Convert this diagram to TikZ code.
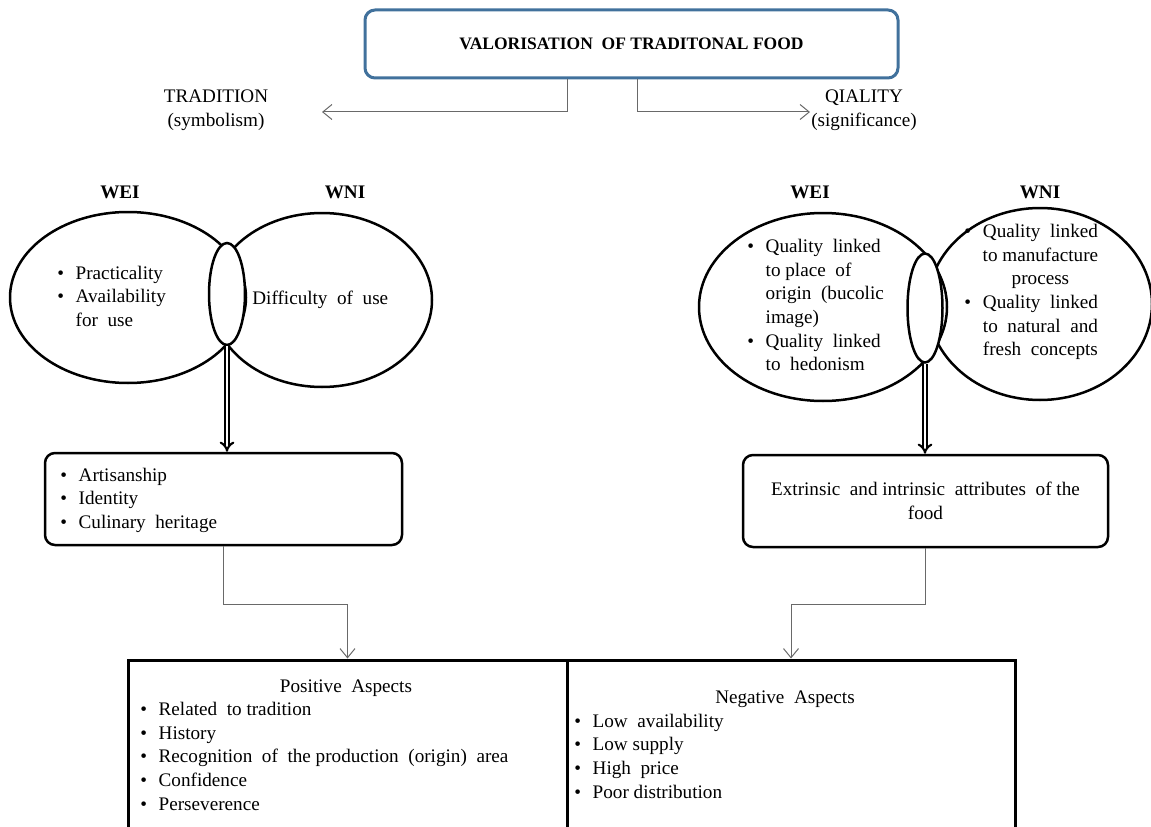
\documentclass[tikz,border=0pt]{standalone}
\usepackage{fontspec}
\setmainfont{Liberation Serif}
\usetikzlibrary{shapes,arrows.meta,positioning,calc}
\definecolor{titleblue}{RGB}{65,113,156}
\definecolor{linkgray}{RGB}{105,105,105}
\newcommand{\bodyfont}{\fontsize{11.5}{14.2}\selectfont}

\begin{document}
\begin{tikzpicture}[x=0.6pt, y=-0.6pt,
	every node/.style={font=\bodyfont, inner sep=0pt},
	titlebox/.style={draw=titleblue, line width=1.8pt, rounded corners=6pt, minimum width=319.8pt, minimum height=40.8pt},
	ring/.style={draw, ellipse, line width=1.5pt},
	overlap/.style={ring, fill=white},
	roundbox/.style={draw, line width=1.5pt, rounded corners=6pt, minimum height=55.2pt},
	aspectbox/.style={draw, line width=1.8pt, minimum height=144pt},
	link/.style={draw=linkgray, line width=0.6pt, -{Straight Barb[length=5.5pt, width=9pt]}},
	dblarrow/.style={double, double distance=1.6pt, line width=1.25pt, -{Implies}},
	heading/.style={font=\bodyfont\bfseries}]
				\useasboundingbox (0,0) rectangle (1151,827);
				\clip (0,0) rectangle (1151,827);
				
				% Title and the two branches
				\node[titlebox] (title) at (631.5,44) {\fontsize{10.5}{12}\selectfont\bfseries VALORISATION\ \ OF TRADITONAL FOOD};
				\coordinate (tradArrow) at (322,112);
				\coordinate (qualArrow) at (810,112);
				\draw[link] ($(title.south)+(-64.5,0)$) |- (tradArrow);
				\draw[link] ($(title.south)+(5.5,0)$) |- (qualArrow);
				\node[align=center] (trad) at (216,110) {TRADITION\\(symbolism)};
				\node[align=center] (qual) at (864,110) {QIALITY\\(significance)};
				
				% Tradition side
				\node[heading] (weiL) at (120,192) {WEI};
				\node[heading] (wniL) at (345,192) {WNI};
				\node[ring, minimum width=141.6pt, minimum height=102.6pt] (weiLring) at (128,297.5) {};
				\node[ring, minimum width=132pt, minimum height=104.4pt] (wniLring) at (322,300) {};
				\node[overlap, minimum width=21.6pt, minimum height=61.2pt] (ovL) at (227,294) {};
				\node[anchor=west] (weiLtxt) at (57,298) {\begin{tabular}{@{}l@{\hspace{7pt}}l@{}}\textbullet & Practicality\\ \textbullet & Availability\\ & for\ \ use\end{tabular}};
				\node[anchor=west] (wniLtxt) at (252,300) {Difficulty\ \ of\ \ use};
				\node[roundbox, minimum width=214.2pt] (boxL) at (223.5,499) {};
				\node[anchor=west] (boxLtxt) at (60,500) {\begin{tabular}{@{}l@{\hspace{7pt}}l@{}}\textbullet & Artisanship\\ \textbullet & Identity\\ \textbullet & Culinary\ \ heritage\end{tabular}};
				\draw[dblarrow] (ovL.south) -- (ovL.south |- boxL.north);
				
				% Quality side
				\node[heading] (weiR) at (810,192) {WEI};
				\node[heading] (wniR) at (1040,192) {WNI};
				\node[ring, minimum width=148.8pt, minimum height=112.8pt] (weiRring) at (823,307) {};
				\node[ring, minimum width=134.4pt, minimum height=115.2pt] (wniRring) at (1040,304) {};
				\node[overlap, minimum width=21pt, minimum height=65.4pt] (ovR) at (925,308) {};
				\node[anchor=west] (weiRtxt) at (747,307) {\begin{tabular}{@{}l@{\hspace{7pt}}l@{}}\textbullet & Quality\ \ linked\\ & to place\ \ of\\ & origin\ \ (bucolic\\ & image)\\ \textbullet & Quality\ \ linked\\ & to\ \ hedonism\end{tabular}};
				\node[anchor=west] (wniRtxt) at (964,292) {\begin{tabular}{@{}l@{\hspace{7pt}}c@{}}\textbullet & Quality\ \ linked\\ & to manufacture\\ & process\\ \textbullet & Quality\ \ linked\\ & to\ \ natural\ \ and\\ & fresh\ \ concepts\end{tabular}};
				\node[roundbox, minimum width=219pt, align=center] (boxR) at (925.5,501) {Extrinsic\ \ and intrinsic\ \ attributes\ \ of the\\food};
				\draw[dblarrow] (ovR.south) -- (ovR.south |- boxR.north);
				
				% Aspects
				\node[aspectbox, minimum width=263.4pt] (posBox) at (347.5,780) {};
				\node[aspectbox, minimum width=268.8pt] (negBox) at (791,780) {};
				\node (posHead) at (346,688) {Positive\ \ Aspects};
				\node[anchor=west] (posTxt) at (140,758) {\begin{tabular}{@{}l@{\hspace{7pt}}l@{}}\textbullet & Related\ \ to tradition\\ \textbullet & History\\ \textbullet & Recognition\ \ of\ \ the production\ \ (origin)\ \ area\\ \textbullet & Confidence\\ \textbullet & Perseverence\end{tabular}};
				\node (negHead) at (785,699) {Negative\ \ Aspects};
				\node[anchor=west] (negTxt) at (574,758) {\begin{tabular}{@{}l@{\hspace{7pt}}l@{}}\textbullet & Low\ \ availability\\ \textbullet & Low supply\\ \textbullet & High\ \ price\\ \textbullet & Poor distribution\end{tabular}};
				\draw[link] (boxL.south) -- ++(0,58) -| (posBox.north);
				\draw[link] (boxR.south) -- ++(0,56) -| (negBox.north);
			\end{tikzpicture}
\end{document}
